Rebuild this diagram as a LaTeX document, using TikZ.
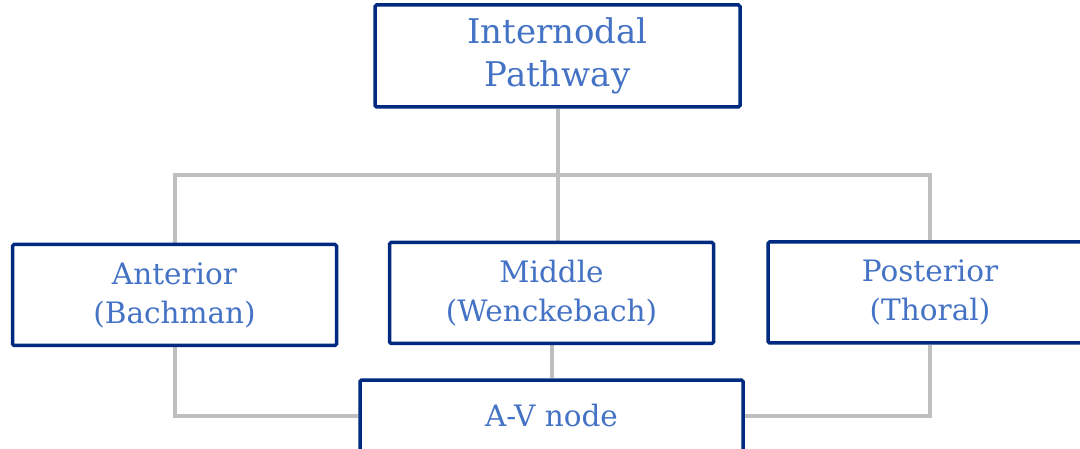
\documentclass[tikz,border=0pt]{standalone}
\usepackage{fontspec}
\setmainfont{DejaVu Serif}
\usetikzlibrary{backgrounds}
\definecolor{boxline}{RGB}{0,42,128}
\definecolor{txtblue}{RGB}{68,114,196}
\definecolor{conngray}{RGB}{191,191,191}
\tikzset{
  box/.style={draw=boxline, line width=3.5pt, fill=white, rounded corners=1.5pt,
    text=txtblue, align=center, inner sep=0pt},
  bigbox/.style={box, minimum width=365pt, minimum height=102pt,
    font=\fontsize{34pt}{43pt}\selectfont},
  smallbox/.style={box, minimum width=324pt, minimum height=101pt,
    font=\fontsize{29.5pt}{39pt}\selectfont},
  conn/.style={draw=conngray, line width=4pt}
}
\begin{document}
\begin{tikzpicture}[x=1pt,y=-1pt]
\useasboundingbox (0,0) rectangle (1080,449);
\clip (0,0) rectangle (1080,449);
\node[bigbox] (top) at (557.5,56) {Internodal\\Pathway};
\node[smallbox] (ant) at (174.5,295) {Anterior\\(Bachman)};
\node[smallbox] (mid) at (551.5,293) {Middle\\(Wenckebach)};
\node[smallbox] (post) at (930,292.5) {Posterior\\(Thoral)};
\node[box, minimum width=383pt, minimum height=72pt,
  font=\fontsize{29.5pt}{39pt}\selectfont] (av) at (551.5,416) {A-V node};
\coordinate (bus) at (0,175);
\begin{pgfonlayer}{background}
\draw[conn] (top.south) -- (top.south |- mid.north);
\draw[conn] (ant.north) -- (ant.north |- bus) -- (post.north |- bus) -- (post.north);
\draw[conn] (ant.south) |- (av.west);
\draw[conn] (post.south) |- (av.east);
\draw[conn] (mid.south) -- (av.north);
\end{pgfonlayer}
\end{tikzpicture}
\end{document}
